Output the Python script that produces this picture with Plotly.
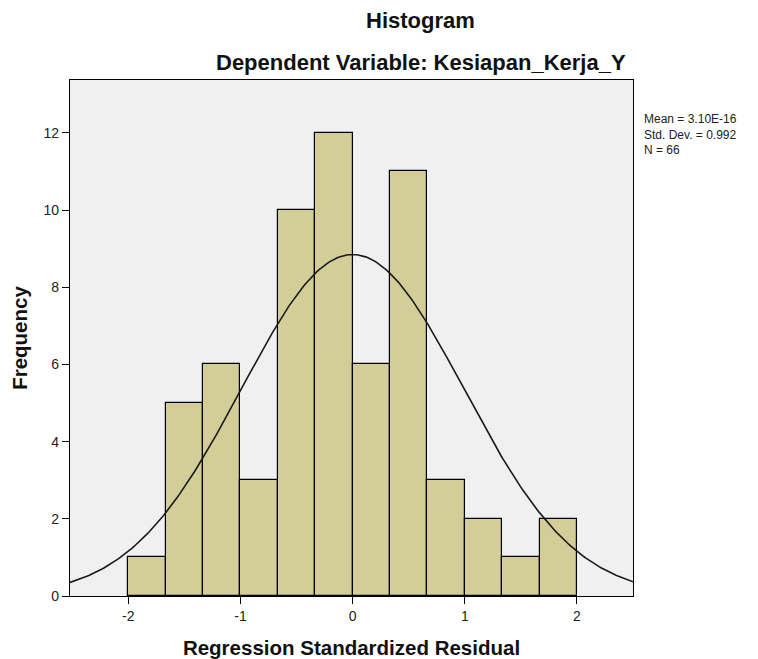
import numpy as np
import plotly.graph_objects as go

# Data
bin_start = -2.0
bin_width = 1.0 / 3.0
counts = [1, 5, 6, 3, 10, 12, 6, 11, 3, 2, 1, 2]
stat_mean = 3.10e-16
stat_sd = 0.992
stat_n = 66
x_ticks = [-2, -1, 0, 1, 2]
y_ticks = [0, 2, 4, 6, 8, 10, 12]

centers = [bin_start + bin_width * (i + 0.5) for i in range(len(counts))]

# Normal curve from stated mean / sd / N
xc = np.linspace(-2.52, 2.5, 300)
yc = stat_n * bin_width / (stat_sd * np.sqrt(2 * np.pi)) * np.exp(-0.5 * ((xc - stat_mean) / stat_sd) ** 2)

fig = go.Figure()
fig.add_trace(go.Bar(
    x=centers, y=counts, width=bin_width,
    marker=dict(color="#D3CE97", line=dict(color="#000000", width=1.2)),
    showlegend=False, hoverinfo="skip",
))
fig.add_trace(go.Scatter(
    x=xc, y=yc, mode="lines",
    line=dict(color="#1a1a1a", width=1.6),
    showlegend=False, hoverinfo="skip",
))

W, H = 750, 651
L, T = 62, 72
PW, PH = 563, 516
font_family = "Liberation Sans, Arial, sans-serif"
fig.update_layout(
    width=W, height=H,
    margin=dict(l=L, r=W - L - PW, t=T, b=H - T - PH),
    paper_bgcolor="white",
    plot_bgcolor="#F0F0F0",
    font=dict(family=font_family, color="#222222", size=12),
    bargap=0,
    xaxis=dict(
        range=[-2.52, 2.5], tickvals=x_ticks, ticktext=[str(v) for v in x_ticks],
        showgrid=False, zeroline=False, showline=True, linecolor="#000000", linewidth=1.3,
        mirror=True, ticks="outside", ticklen=7, tickcolor="#000000", automargin=False,
        tickfont=dict(size=14, color="#222222"),
        title=dict(text="<b>Regression Standardized Residual</b>", font=dict(size=20.5, color="#111111"), standoff=18),
    ),
    yaxis=dict(
        range=[0, 13.37], tickvals=y_ticks, ticktext=[str(v) for v in y_ticks],
        showgrid=False, zeroline=False, showline=True, linecolor="#000000", linewidth=1.3,
        mirror=True, ticks="outside", ticklen=7, tickcolor="#000000", automargin=False,
        tickfont=dict(size=14, color="#222222"),
        title=dict(text="<b>Frequency</b>", font=dict(size=20.5, color="#111111"), standoff=11),
    ),
    annotations=[
        dict(text="<b>Histogram</b>", xref="paper", yref="paper",
             x=(420 - 70) / PW, y=1 + (80 - 20) / PH, xanchor="center", yanchor="middle",
             showarrow=False, font=dict(size=22, color="#111111")),
        dict(text="<b>Dependent Variable: Kesiapan_Kerja_Y</b>", xref="paper", yref="paper",
             x=(421 - 70) / PW, y=1 + (80 - 63) / PH, xanchor="center", yanchor="middle",
             showarrow=False, font=dict(size=22, color="#111111")),
        dict(text="Mean = 3.10E-16<br>Std. Dev. = 0.992<br>N = 66", xref="paper", yref="paper",
             x=(642 - 70) / PW, y=1 - (110 - 80) / PH, xanchor="left", yanchor="top", align="left",
             showarrow=False, font=dict(size=12, color="#222222")),
    ],
)

fig.write_html("out.html")
